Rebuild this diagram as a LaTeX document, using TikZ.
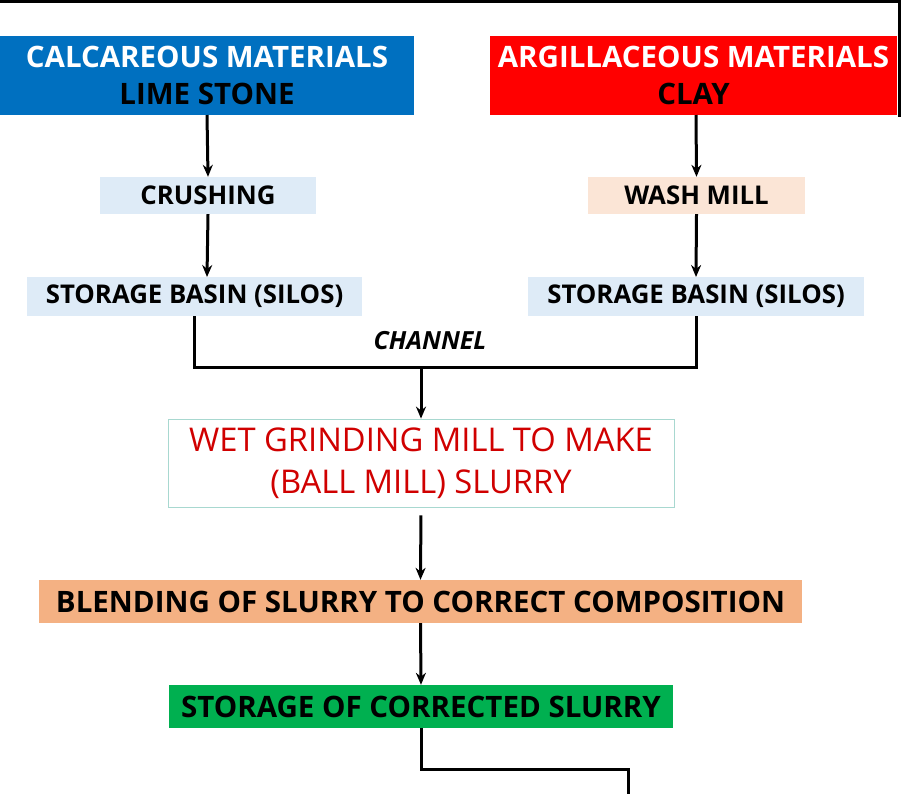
\documentclass[tikz,border=0pt]{standalone}
\usepackage{fontspec}
\setmainfont{Open Sans}
\usetikzlibrary{arrows.meta}
\definecolor{hblue}{HTML}{0070C0}
\definecolor{hred}{HTML}{FF0000}
\definecolor{lblue}{HTML}{DEEBF7}
\definecolor{lpeach}{HTML}{FBE5D6}
\definecolor{orng}{HTML}{F4B183}
\definecolor{grn}{HTML}{00B050}
\definecolor{txtred}{HTML}{D00000}
\definecolor{tealb}{HTML}{A8D8D0}
\tikzset{
  box/.style={rectangle, inner sep=0pt, anchor=center, align=center},
  head/.style={box, font=\bfseries\fontsize{29.5}{37}\selectfont},
  small/.style={box, fill=lblue, font=\bfseries\fontsize{25.8}{28}\selectfont},
  wide/.style={box, font=\bfseries\fontsize{29.5}{32}\selectfont},
  conn/.style={line width=3pt, draw=black},
  arr/.style={conn, -{Stealth[length=12pt,width=10pt]}},
}
\begin{document}
\begin{tikzpicture}[x=1pt,y=-1pt]
\useasboundingbox (0,0) rectangle (901,793);
\fill[white] (0,0) rectangle (901,793);
\draw[line width=2.5pt] (0,1.5) -- (899.5,1.5) -- (899.5,117);

\node[head, fill=hblue, minimum width=414pt, minimum height=79pt] (cal) at (207,75.5)
  {\textcolor{white}{CALCAREOUS MATERIALS}\\LIME STONE};
\node[head, fill=hred, minimum width=407pt, minimum height=79pt] (arg) at (693.5,75.5)
  {\textcolor{white}{ARGILLACEOUS MATERIALS}\\CLAY};

\node[small, minimum width=216pt, minimum height=37pt] (crush) at (208,195.5) {CRUSHING};
\node[small, fill=lpeach, minimum width=217pt, minimum height=37pt] (wash) at (696.5,195.5) {WASH MILL};

\node[small, minimum width=335pt, minimum height=39pt] (stL) at (194.5,296.5) {STORAGE BASIN (SILOS)};
\node[small, minimum width=336pt, minimum height=39pt] (stR) at (696,296.5) {STORAGE BASIN (SILOS)};

\node[box, font=\bfseries\itshape\fontsize{25}{28}\selectfont] (chan) at (430,341) {CHANNEL};

\node[box, draw=tealb, line width=0.8pt, fill=white, text=txtred, minimum width=506pt, minimum height=88pt,
  font=\fontsize{32.7}{42}\selectfont] (wet) at (421,463) {WET GRINDING MILL TO MAKE\\(BALL MILL) SLURRY};

\node[wide, fill=orng, minimum width=763pt, minimum height=43pt] (blend) at (420.5,601.5)
  {BLENDING OF SLURRY TO CORRECT COMPOSITION};
\node[wide, fill=grn, minimum width=504pt, minimum height=43pt] (green) at (421,706.5)
  {STORAGE OF CORRECTED SLURRY};

\coordinate (j) at (421,367);
\coordinate (bend) at (421,769);
\coordinate (endpt) at (628,800);

\draw[arr] (207,115) -- (crush.north);
\draw[arr] (crush.south) -- (207,277);
\draw[arr] (696,115) -- (wash.north);
\draw[arr] (wash.south) -- (696,277);
\draw[conn] (stL.south) |- (j) -| (stR.south);
\draw[arr] (j) -- (wet.north);
\draw[arr, shorten <=8pt] (wet.south) -- (blend.north);
\draw[arr] (blend.south) -- (green.north);
\draw[conn] (green.south) -- (bend) -| (endpt);
\end{tikzpicture}
\end{document}
